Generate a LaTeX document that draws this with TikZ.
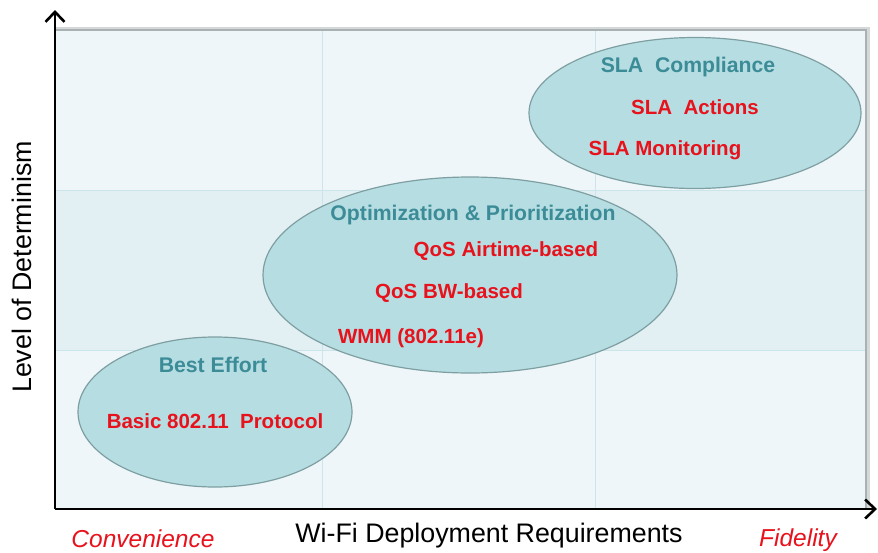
\documentclass[tikz,border=0pt]{standalone}
\usepackage{fontspec}
\setmainfont{Liberation Sans}
\usetikzlibrary{shapes.geometric,arrows.meta}
\definecolor{panelfill}{HTML}{EEF6F9}
\definecolor{bandfill}{HTML}{E3F0F3}
\definecolor{gridc}{HTML}{CBE5EA}
\definecolor{ellfill}{HTML}{B6DDE2}
\definecolor{elldraw}{HTML}{7E9FA2}
\definecolor{tealtext}{HTML}{3C8C98}
\definecolor{redtext}{HTML}{E8121C}
\definecolor{borderc}{HTML}{A9B1B2}
\tikzset{
  zone/.style={ellipse, draw=elldraw, line width=1.2pt, fill=ellfill, inner sep=0pt},
  head/.style={text=tealtext, font=\bfseries\fontsize{21.2}{25}\selectfont, inner sep=0pt},
  item/.style={text=redtext, font=\bfseries\fontsize{20.5}{24}\selectfont, inner sep=0pt},
  axislabel/.style={text=black, font=\fontsize{26.8}{32}\selectfont, inner sep=0pt},
  endlabel/.style={text=redtext, font=\itshape\fontsize{24.5}{29}\selectfont, inner sep=0pt},
  axisline/.style={line width=2.6pt, -{Straight Barb[length=10pt,width=19pt,line width=2.6pt]}}
}
\begin{document}
\begin{tikzpicture}[x=1pt,y=-1pt]
\useasboundingbox (0,0) rectangle (878,552);
\fill[white] (0,0) rectangle (878,552);
% panel
\fill[panelfill] (55,30) rectangle (866,509);
\fill[bandfill] (55,190) rectangle (866,350);
\draw[gridc, line width=1pt] (55,190) -- (866,190);
\draw[gridc, line width=1pt] (55,350) -- (866,350);
\draw[gridc, line width=1pt] (322,30) -- (322,509);
\draw[gridc, line width=1pt] (595,30) -- (595,509);
\draw[borderc!50, line width=3pt] (55,28) -- (868,28) -- (868,509);
\draw[borderc, line width=1.3pt] (55,30) -- (866,30) -- (866,509);
% zones
\node[zone, minimum width=332pt, minimum height=151pt] (sla) at (695,113) {};
\node[zone, minimum width=414pt, minimum height=196pt] (opt) at (470,275) {};
\node[zone, minimum width=274pt, minimum height=150pt] (be) at (215,412) {};
% texts
\node[head] (slah) at (688,67) {SLA\ \ Compliance};
\node[item] (slaa) at (695,107) {SLA\ \ Actions};
\node[item] (slam) at (665,150) {SLA Monitoring};
\node[head] (opth) at (473,215) {Optimization \& Prioritization};
\node[item] (qosa) at (506,251) {QoS Airtime-based};
\node[item] (qosb) at (449,293) {QoS BW-based};
\node[item] (wmm) at (411,338) {WMM (802.11e)};
\node[head] (beh) at (213,365) {Best Effort};
\node[item] (basic) at (215,421) {Basic 802.11\ \ Protocol};
% axes
\coordinate (origin) at (55,509);
\coordinate (ytip) at (55,10);
\coordinate (xtip) at (877,509);
\draw[axisline] (origin) -- (ytip);
\draw[axisline] (origin) -- (xtip);
\node[axislabel, rotate=90] (ylab) at (22,267) {Level of Determinism};
\node[axislabel] (xlab) at (489,536) {Wi-Fi Deployment Requirements};
\node[endlabel] (conv) at (143,539) {Convenience};
\node[endlabel] (fid) at (798,540) {Fidelity};
\end{tikzpicture}
\end{document}
